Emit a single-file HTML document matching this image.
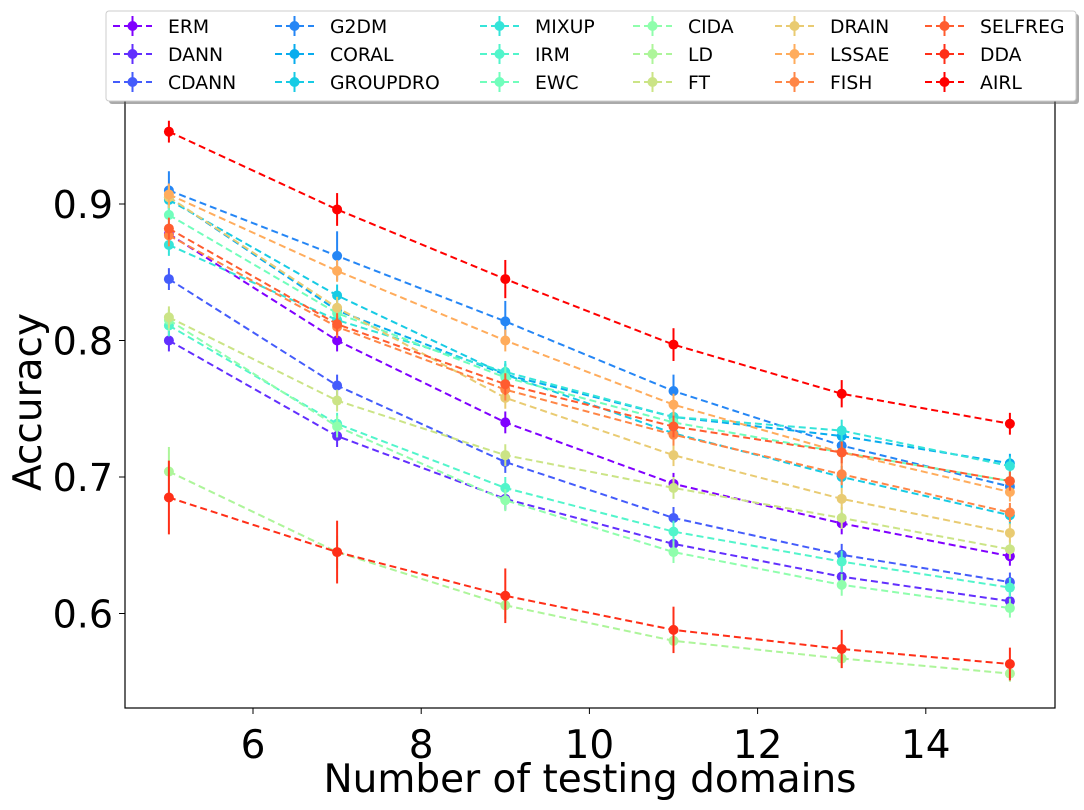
<!DOCTYPE html>
<html><head><meta charset="utf-8"><style>
body{margin:0;background:#fff;}
svg{display:block;font-family:"DejaVu Sans","Liberation Sans",sans-serif;}
</style></head><body>
<svg id="chart" width="1084" height="810" xmlns="http://www.w3.org/2000/svg"></svg>
<script>
const xValues=[5,7,9,11,13,15];
const seriesNames=["ERM","DANN","CDANN","G2DM","CORAL","GROUPDRO","MIXUP","IRM","EWC","CIDA","LD","FT","DRAIN","LSSAE","FISH","SELFREG","DDA","AIRL"];
const ermVals=[0.878,0.800,0.740,0.695,0.666,0.642];
const dannVals=[0.800,0.730,0.684,0.651,0.627,0.609];
const cdannVals=[0.845,0.767,0.711,0.670,0.643,0.623];
const g2dmVals=[0.910,0.862,0.814,0.763,0.723,0.693];
const coralVals=[0.905,0.822,0.775,0.744,0.730,0.710];
const groupdroVals=[0.903,0.833,0.775,0.732,0.700,0.672];
const mixupVals=[0.870,0.815,0.777,0.744,0.734,0.708];
const irmVals=[0.811,0.739,0.692,0.660,0.638,0.619];
const ewcVals=[0.892,0.820,0.773,0.740,0.718,0.697];
const cidaVals=[0.815,0.737,0.683,0.645,0.621,0.604];
const ldVals=[0.704,0.645,0.606,0.580,0.567,0.556];
const ftVals=[0.817,0.756,0.716,0.692,0.670,0.647];
const drainVals=[0.905,0.824,0.758,0.716,0.684,0.659];
const lssaeVals=[0.907,0.851,0.800,0.753,0.718,0.689];
const fishVals=[0.877,0.810,0.764,0.731,0.702,0.674];
const selfregVals=[0.882,0.812,0.768,0.737,0.718,0.697];
const ddaVals=[0.685,0.645,0.613,0.588,0.574,0.563];
const airlVals=[0.953,0.896,0.845,0.797,0.761,0.739];
const seriesValues=[ermVals,dannVals,cdannVals,g2dmVals,coralVals,groupdroVals,mixupVals,irmVals,ewcVals,cidaVals,ldVals,ftVals,drainVals,lssaeVals,fishVals,selfregVals,ddaVals,airlVals];
const defaultErr=[0.008,0.008,0.008,0.008,0.008,0.007];
const g2dmErr=[0.014,0.018,0.015,0.012,0.01,0.008];
const ddaErr=[0.027,0.023,0.02,0.017,0.014,0.012];
const airlErr=[0.008,0.012,0.014,0.012,0.01,0.008];
const ldErr=[0.018,0.012,0.01,0.008,0.007,0.006];
const xTicks=[6,8,10,12,14];
const yTicks=[0.6,0.7,0.8,0.9];

const L=125,R=1055,T=80,B=708;
const xs=v=>253+(v-6)*84.1;
const ys=v=>204+(0.9-v)*1365;
const NS="http://www.w3.org/2000/svg";
const svg=document.getElementById('chart');
function mk(tag,attrs,parent){const e=document.createElementNS(NS,tag);for(const k in attrs)e.setAttribute(k,attrs[k]);(parent||svg).appendChild(e);return e;}
function cmap(t){let r=Math.abs(2*t-0.5),g=Math.sin(Math.PI*t),b=Math.abs(Math.cos(Math.PI*t/2));const c=v=>Math.round(Math.max(0,Math.min(1,v))*255);return `rgb(${c(r)},${c(g)},${c(b)})`;}

const frame=mk('rect',{x:L,y:T,width:R-L,height:B-T,fill:'none',stroke:'#000','stroke-width':1.2});



xTicks.forEach(t=>{
  const ln=mk('line',{x1:xs(t),x2:xs(t),y1:B,y2:B+6,stroke:'#000'});
  
  
  const tx=mk('text',{x:xs(t),y:B+50,'font-size':39,'text-anchor':'middle'});
  tx.textContent=t;
  
  
});
yTicks.forEach(t=>{
  const ln=mk('line',{x1:L-6,x2:L,y1:ys(t),y2:ys(t),stroke:'#000'});
  
  
  const tx=mk('text',{x:L-12,y:ys(t)+14,'font-size':38,'text-anchor':'end'});
  tx.textContent=t.toFixed(1);
  
  
});
const xl=mk('text',{x:590,y:792,'font-size':39,'text-anchor':'middle'});
xl.textContent='Number of testing domains';


const yl=mk('text',{x:0,y:0,'font-size':39,'text-anchor':'middle',transform:'translate(41,402) rotate(-90)'});
yl.textContent='Accuracy';



seriesValues.forEach((vals,i)=>{
  const col=cmap(i/17);
  const name=seriesNames[i];
  const err=name==='G2DM'?g2dmErr:name==='DDA'?ddaErr:name==='AIRL'?airlErr:name==='LD'?ldErr:defaultErr;
  const g=mk('g',{});
  
  
  vals.forEach((v,j)=>{
    const eb=mk('line',{x1:xs(xValues[j]),x2:xs(xValues[j]),y1:ys(v+err[j]),y2:ys(v-err[j]),stroke:col,'stroke-width':2},g);
    
    
  });
  const pl=mk('polyline',{points:vals.map((v,j)=>xs(xValues[j])+','+ys(v)).join(' '),fill:'none',stroke:col,'stroke-width':2,'stroke-dasharray':'7,4'},g);
  
  
  vals.forEach((v,j)=>{
    const c=mk('circle',{cx:xs(xValues[j]),cy:ys(v),r:5,fill:col},g);
    
    
  });
});

const lg=mk('g',{});


mk('rect',{x:109,y:14,width:970,height:90,rx:3,fill:'#555',opacity:0.5},lg);
mk('rect',{x:106,y:11,width:970,height:90,rx:3,fill:'#fff',stroke:'#ccc','stroke-width':1},lg);
const colX=[113,275,480,633,775,925];
const rowY=[26,54,82];
seriesNames.forEach((n,i)=>{
  const c=Math.floor(i/3),r=i%3,col=cmap(i/17);
  const x=colX[c],y=rowY[r];
  const e=mk('g',{},lg);
  
  
  mk('line',{x1:x,x2:x+39,y1:y,y2:y,stroke:col,'stroke-width':2,'stroke-dasharray':'7,4'},e);
  mk('line',{x1:x+19.5,x2:x+19.5,y1:y-10,y2:y+10,stroke:col,'stroke-width':2},e);
  mk('circle',{cx:x+19.5,cy:y,r:5,fill:col},e);
  const t=mk('text',{x:x+55,y:y+7,'font-size':18.8},e);
  t.textContent=n;
});
</script>
</body></html>
